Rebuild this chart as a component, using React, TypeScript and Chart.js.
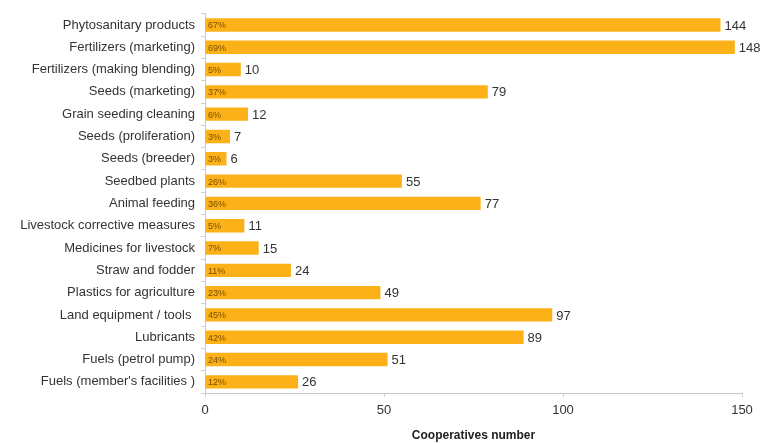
import React, { useEffect, useRef } from "react";
import { Chart, registerables } from "chart.js";

Chart.register(...registerables);

const categories = [
  "Phytosanitary products",
  "Fertilizers (marketing)",
  "Fertilizers (making blending)",
  "Seeds (marketing)",
  "Grain seeding cleaning",
  "Seeds (proliferation)",
  "Seeds (breeder)",
  "Seedbed plants",
  "Animal feeding",
  "Livestock corrective measures",
  "Medicines for livestock",
  "Straw and fodder",
  "Plastics for agriculture",
  "Land equipment / tools ",
  "Lubricants",
  "Fuels (petrol pump)",
  "Fuels (member's facilities )",
];

const cooperatives = [144, 148, 10, 79, 12, 7, 6, 55, 77, 11, 15, 24, 49, 97, 89, 51, 26];
const percentages = ["67%", "69%", "5%", "37%", "6%", "3%", "3%", "26%", "36%", "5%", "7%", "11%", "23%", "45%", "42%", "24%", "12%"];
const xTicks = [0, 50, 100, 150];

const labelPlugin = {
  id: "barLabels",
  afterDatasetsDraw(chart: any) {
    const ctx = chart.ctx;
    const meta = chart.getDatasetMeta(0);
    const xScale = chart.scales.x;
    ctx.save();
    ctx.textBaseline = "middle";
    meta.data.forEach((bar: any, i: number) => {
      ctx.font = "9px 'Liberation Sans', Arial, sans-serif";
      ctx.fillStyle = "#7a4f00";
      ctx.textAlign = "left";
      ctx.fillText(percentages[i], xScale.getPixelForValue(0) + 3, bar.y + 1);
      ctx.font = "13px 'Liberation Sans', Arial, sans-serif";
      ctx.fillStyle = "#333333";
      ctx.fillText(String(cooperatives[i]), bar.x + 4, bar.y + 1);
    });
    ctx.restore();
  },
};

export default function App() {
  const ref = useRef<HTMLCanvasElement>(null);
  useEffect(() => {
    document.body.style.margin = "0";
    const chart = new Chart(ref.current!, {
      type: "bar",
      data: {
        labels: categories,
        datasets: [
          {
            data: cooperatives,
            backgroundColor: "#FBB117",
            borderWidth: 0,
            barPercentage: 0.6,
            categoryPercentage: 1,
          },
        ],
      },
      options: {
        indexAxis: "y",
        animation: false,
        responsive: false,
        maintainAspectRatio: false,
        layout: { padding: { left: 0, right: 18, top: 12, bottom: 0 } },
        plugins: { legend: { display: false }, tooltip: { enabled: false } },
        scales: {
          x: {
            min: 0,
            max: 150,
            afterBuildTicks: (s: any) => {
              s.ticks = xTicks.map((v) => ({ value: v }));
            },
            afterFit: (s: any) => {
              s.height = 50;
            },
            grid: { display: true, drawOnChartArea: false, drawTicks: true, tickLength: 4, color: "#d0d0d0" },
            border: { color: "#c8c8c8" },
            ticks: {
              color: "#333333",
              font: { family: "'Liberation Sans', Arial, sans-serif", size: 13 },
              padding: 6,
            },
            title: {
              display: true,
              text: "Cooperatives number",
              color: "#222222",
              font: { family: "'Liberation Sans', Arial, sans-serif", size: 12, weight: "bold" },
              padding: { top: 16, bottom: 0 },
            },
          },
          y: {
            afterFit: (s: any) => {
              s.width = 205;
            },
            grid: { display: true, drawOnChartArea: false, drawTicks: true, tickLength: 4, offset: true, color: "#d0d0d0" },
            border: { color: "#c8c8c8" },
            ticks: {
              color: "#333333",
              font: { family: "'Liberation Sans', Arial, sans-serif", size: 13 },
              padding: 6,
              autoSkip: false,
            },
          },
        },
      },
      plugins: [labelPlugin],
    });
    return () => chart.destroy();
  }, []);
  return (
    <div style={{ width: 760, height: 443, background: "#fff" }}>
      <canvas ref={ref} width={760} height={443} />
    </div>
  );
}
